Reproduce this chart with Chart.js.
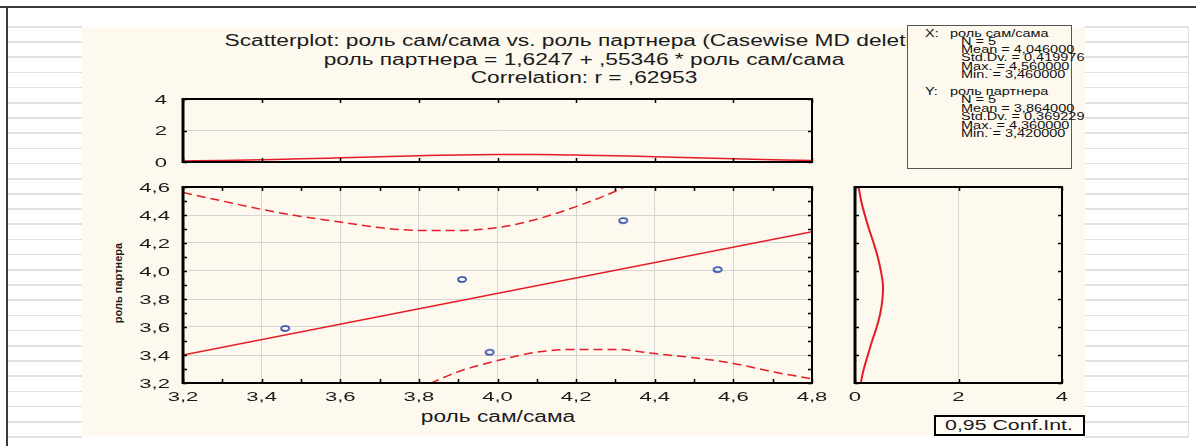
<!DOCTYPE html>
<html>
<head>
<meta charset="utf-8">
<script src="https://cdn.jsdelivr.net/npm/chart.js@4.4.0/dist/chart.umd.min.js"></script>
<style>
body { margin: 0; width: 1196px; height: 446px; overflow: hidden; background: #fff; font-family: "Liberation Sans", Arial, sans-serif; color: #1b1b1b; }
.abs { position: absolute; }
.rows { position: absolute; background: repeating-linear-gradient(to bottom, #e1e1e1 0, #e1e1e1 1.6px, #fff 1.6px, #fff 15.19px); }
.panel { position: absolute; left: 82px; top: 27px; width: 1003px; height: 409px; background: #fdf9ef; }
.t { position: absolute; white-space: nowrap; line-height: 18px; font-size: 16px; transform-origin: 50% 50%; }
.stats { position: absolute; left: 907px; top: 25px; width: 163px; height: 142px; border: 1px solid #555; background: #fdf9ef; z-index: 5; }
.s { position: absolute; white-space: nowrap; font-size: 10px; line-height: 10px; color: #111; transform: scaleX(1.45); transform-origin: 0 50%; }
.legend { position: absolute; left: 934px; top: 415px; width: 147px; height: 17px; border: 2px solid #000; background: #fffdf6; z-index: 5; }
canvas { position: absolute; }
</style>
</head>
<body>
<div class="abs" style="left:0;top:6px;width:1196px;height:2px;background:#3a3a3a"></div>
<div class="abs" style="left:6px;top:6px;width:2px;height:440px;background:#3a3a3a"></div>
<div class="rows" style="left:8px;top:26px;width:74px;height:413px"></div>
<div class="rows" style="left:1085px;top:26px;width:103px;height:413px"></div>
<div class="abs" style="left:1188px;top:26px;width:1px;height:412px;background:#e1e1e1"></div>
<div class="panel"></div>

<div class="t" id="t1" style="left:584px;top:32px">Scatterplot: роль сам/сама vs. роль партнера (Casewise MD deletion)</div>
<div class="t" id="t2" style="left:584px;top:51px">роль партнера = 1,6247 + ,55346 * роль сам/сама</div>
<div class="t" id="t3" style="left:584px;top:69px">Correlation: r = ,62953</div>
<div class="t" id="xt" style="left:498px;top:408px">роль сам/сама</div>
<div class="abs" style="left:118px;top:283px;white-space:nowrap;font-size:11px;font-weight:bold;transform:translate(-50%,-50%) rotate(-90deg)">роль партнера</div>

<div class="stats" id="stats"></div>
<div class="legend"><div class="t" style="left:73px;top:-1px;font-size:15px">0,95 Conf.Int.</div></div>

<canvas id="topChart" width="730" height="82" style="left:100px;top:88px"></canvas>
<canvas id="mainChart" width="730" height="240" style="left:100px;top:180px"></canvas>
<canvas id="sideChart" width="240" height="240" style="left:840px;top:180px"></canvas>

<script>
// значения
const samX = [3.46, 3.91, 3.98, 4.32, 4.56];
const partnerY = [3.59, 3.94, 3.42, 4.36, 4.01];

const fitX = [3.2, 4.8];
const fitY = [3.40, 4.28];

const bandX = [3.2, 3.3, 3.4, 3.5, 3.6, 3.7, 3.8, 3.9, 4.0, 4.1, 4.2, 4.3, 4.4, 4.5, 4.6, 4.7, 4.8];
const bandUpper = [4.56, 4.50, 4.44, 4.39, 4.35, 4.31, 4.29, 4.29, 4.31, 4.37, 4.46, 4.57, 4.71, null, null, null, null];
const bandLower = [null, null, null, null, null, 3.03, 3.16, 3.28, 3.36, 3.42, 3.44, 3.44, 3.41, 3.38, 3.34, 3.28, 3.23];

// кривая плотности сверху (по X)
const densX = [0.06, 0.10, 0.15, 0.20, 0.27, 0.34, 0.40, 0.45, 0.47, 0.47, 0.44, 0.40, 0.33, 0.27, 0.20, 0.14, 0.10];
// кривая плотности справа (по Y)
const levelsY = [3.2, 3.3, 3.4, 3.5, 3.6, 3.7, 3.8, 3.9, 4.0, 4.1, 4.2, 4.3, 4.4, 4.5, 4.6];
const densY = [0.11, 0.17, 0.25, 0.33, 0.42, 0.49, 0.53, 0.54, 0.50, 0.44, 0.36, 0.27, 0.19, 0.12, 0.07];

const statLines = [
    [35, 925, 'X:'], [35, 950, 'роль сам/сама'],
    [42.7, 961, 'N = 5'], [50.7, 961, 'Mean = 4,046000'], [59.3, 961, 'Std.Dv. = 0,419976'],
    [67.7, 961, 'Max. = 4,560000'], [75.7, 961, 'Min. = 3,460000'],
    [93.3, 925, 'Y:'], [93.3, 950, 'роль партнера'],
    [101, 961, 'N = 5'], [110, 961, 'Mean = 3,864000'], [118.3, 961, 'Std.Dv. = 0,369229'],
    [127, 961, 'Max. = 4,360000'], [135.3, 961, 'Min. = 3,420000']
];

const RED = 'rgb(228,28,38)';
const GRID = '#d6d6d6';

// растянутый текст заголовков
['t1', 't2', 't3', 'xt'].forEach(id => {
    document.getElementById(id).style.transform = 'translateX(-50%) scaleX(1.42)';
});
document.querySelector('.legend .t').style.transform = 'translateX(-50%) scaleX(1.42)';

const statsBox = document.getElementById('stats');
statLines.forEach(([cy, x, txt]) => {
    const d = document.createElement('div');
    d.className = 's';
    d.style.left = (x - 908) + 'px';
    d.style.top = (cy - 6 - 26) + 'px';
    d.textContent = txt;
    statsBox.appendChild(d);
});

// эллипс-маркер точки
const marker = document.createElement('canvas');
marker.width = 12; marker.height = 9;
(function() {
    const c = marker.getContext('2d');
    c.strokeStyle = 'rgb(40,70,170)';
    c.lineWidth = 1.7;
    c.beginPath();
    c.ellipse(6, 4.5, 4, 2.5, 0, 0, Math.PI * 2);
    c.stroke();
})();

function fmt(v, dec) {
    return v.toFixed(dec).replace('.', ',');
}

// подписи делений, растянутые по горизонтали
const stretchLabels = {
    id: 'stretchLabels',
    afterDraw(chart, args, opts) {
        const ctx = chart.ctx;
        const a = chart.chartArea;
        ctx.save();
        ctx.font = '13px "Liberation Sans", Arial, sans-serif';
        ctx.fillStyle = '#1b1b1b';
        ctx.textBaseline = 'middle';
        (opts.axes || []).forEach(ax => {
            const s = chart.scales[ax.id];
            s.ticks.forEach(t => {
                const label = fmt(t.value, ax.dec);
                let x, y;
                if (s.isHorizontal()) {
                    x = s.getPixelForValue(t.value);
                    y = a.bottom + 14;
                    ctx.textAlign = 'center';
                } else {
                    x = a.left - ax.gap;
                    y = s.getPixelForValue(t.value) + 1;
                    ctx.textAlign = 'right';
                }
                ctx.save();
                ctx.translate(x, y);
                ctx.scale(1.7, 1);
                ctx.fillText(label, 0, 0);
                ctx.restore();
            });
        });
        ctx.restore();
    }
};

// рамка и внутренние засечки
const frame = {
    id: 'frame',
    afterDatasetsDraw(chart, args, o) {
        const { ctx, chartArea: a, scales } = chart;
        const xs = scales.x, ys = scales.y;
        const len = o.len || 4;
        ctx.save();
        ctx.strokeStyle = '#000';
        ctx.lineWidth = 1.5;
        ctx.beginPath();
        for (let v = xs.min; v <= xs.max + 1e-9; v += o.xStep) {
            const px = Math.round(xs.getPixelForValue(v)) + 0.5;
            ctx.moveTo(px, a.top); ctx.lineTo(px, a.top + len);
            ctx.moveTo(px, a.bottom); ctx.lineTo(px, a.bottom - len);
        }
        for (let v = ys.min; v <= ys.max + 1e-9; v += o.yStep) {
            const py = Math.round(ys.getPixelForValue(v)) + 0.5;
            ctx.moveTo(a.left, py); ctx.lineTo(a.left + len, py);
            ctx.moveTo(a.right, py); ctx.lineTo(a.right - len, py);
        }
        ctx.stroke();
        ctx.lineWidth = 2;
        ctx.strokeRect(a.left, a.top, a.right - a.left, a.bottom - a.top);
        ctx.lineWidth = 3;
        ctx.beginPath();
        ctx.moveTo(a.left, a.top - 1); ctx.lineTo(a.left, a.bottom + 1);
        ctx.stroke();
        ctx.restore();
    }
};

Chart.register(stretchLabels, frame);

function baseOptions(padding) {
    return {
        responsive: false,
        animation: false,
        layout: { padding: padding },
        plugins: { legend: { display: false }, tooltip: { enabled: false } },
        elements: { point: { radius: 0 } }
    };
}

function fixedWidth(w) { return s => { s.width = w; }; }
function fixedHeight(h) { return s => { s.height = h; }; }

// основная диаграмма рассеяния
const mainOpts = baseOptions({ left: 0, top: 7, right: 18, bottom: 0 });
mainOpts.scales = {
    x: {
        type: 'linear', min: 3.2, max: 4.8,
        ticks: { display: false, stepSize: 0.2 },
        grid: { color: GRID, lineWidth: 1, drawTicks: false },
        border: { display: false },
        afterFit: fixedHeight(37)
    },
    y: {
        type: 'linear', min: 3.2, max: 4.6,
        ticks: { display: false, stepSize: 0.2 },
        grid: { color: GRID, lineWidth: 1, drawTicks: false },
        border: { display: false },
        afterFit: fixedWidth(83)
    }
};
mainOpts.plugins.stretchLabels = { axes: [{ id: 'x', dec: 1 }, { id: 'y', dec: 1, gap: 13 }] };
mainOpts.plugins.frame = { xStep: 0.1, yStep: 0.1, len: 4 };

new Chart(document.getElementById('mainChart'), {
    type: 'scatter',
    data: {
        datasets: [
            {
                data: samX.map((x, i) => ({ x: x, y: partnerY[i] })),
                pointStyle: marker, radius: 5, showLine: false
            },
            {
                data: fitX.map((x, i) => ({ x: x, y: fitY[i] })),
                showLine: true, borderColor: RED, borderWidth: 1.5, clip: 0
            },
            {
                data: bandX.map((x, i) => ({ x: x, y: bandUpper[i] })),
                showLine: true, borderColor: RED, borderWidth: 1.5, borderDash: [9, 5],
                cubicInterpolationMode: 'monotone', spanGaps: false, clip: 0
            },
            {
                data: bandX.map((x, i) => ({ x: x, y: bandLower[i] })),
                showLine: true, borderColor: RED, borderWidth: 1.5, borderDash: [9, 5],
                cubicInterpolationMode: 'monotone', spanGaps: false, clip: 0
            }
        ]
    },
    options: mainOpts
});

// верхняя панель: плотность X
const topOpts = baseOptions({ left: 0, top: 11, right: 18, bottom: 0 });
topOpts.scales = {
    x: {
        type: 'linear', min: 3.2, max: 4.8,
        ticks: { display: false, stepSize: 0.2 },
        grid: { display: false },
        border: { display: false },
        afterFit: fixedHeight(8)
    },
    y: {
        type: 'linear', min: 0, max: 4,
        ticks: { display: false, stepSize: 2 },
        grid: { color: c => (c.tick.value === 2 ? GRID : 'transparent'), drawTicks: false },
        border: { display: false },
        afterFit: fixedWidth(83)
    }
};
topOpts.plugins.stretchLabels = { axes: [{ id: 'y', dec: 0, gap: 16 }] };
topOpts.plugins.frame = { xStep: 0.2, yStep: 2, len: 4 };

new Chart(document.getElementById('topChart'), {
    type: 'scatter',
    data: {
        datasets: [{
            data: bandX.map((x, i) => ({ x: x, y: densX[i] })),
            showLine: true, borderColor: RED, borderWidth: 1.5, cubicInterpolationMode: 'monotone', clip: 0
        }]
    },
    options: topOpts
});

// правая панель: плотность Y
const sideOpts = baseOptions({ left: 15, top: 7, right: 18, bottom: 0 });
sideOpts.scales = {
    x: {
        type: 'linear', min: 0, max: 4,
        ticks: { display: false, stepSize: 2 },
        grid: { color: c => (c.tick.value === 2 ? GRID : 'transparent'), drawTicks: false },
        border: { display: false },
        afterFit: fixedHeight(37)
    },
    y: { type: 'linear', min: 3.2, max: 4.6, display: false }
};
sideOpts.plugins.stretchLabels = { axes: [{ id: 'x', dec: 0 }] };
sideOpts.plugins.frame = { xStep: 2, yStep: 0.2, len: 4 };

new Chart(document.getElementById('sideChart'), {
    type: 'scatter',
    data: {
        datasets: [{
            data: levelsY.map((y, i) => ({ x: densY[i], y: y })),
            showLine: true, borderColor: RED, borderWidth: 2, tension: 0.4, clip: 0
        }]
    },
    options: sideOpts
});
</script>
</body>
</html>
